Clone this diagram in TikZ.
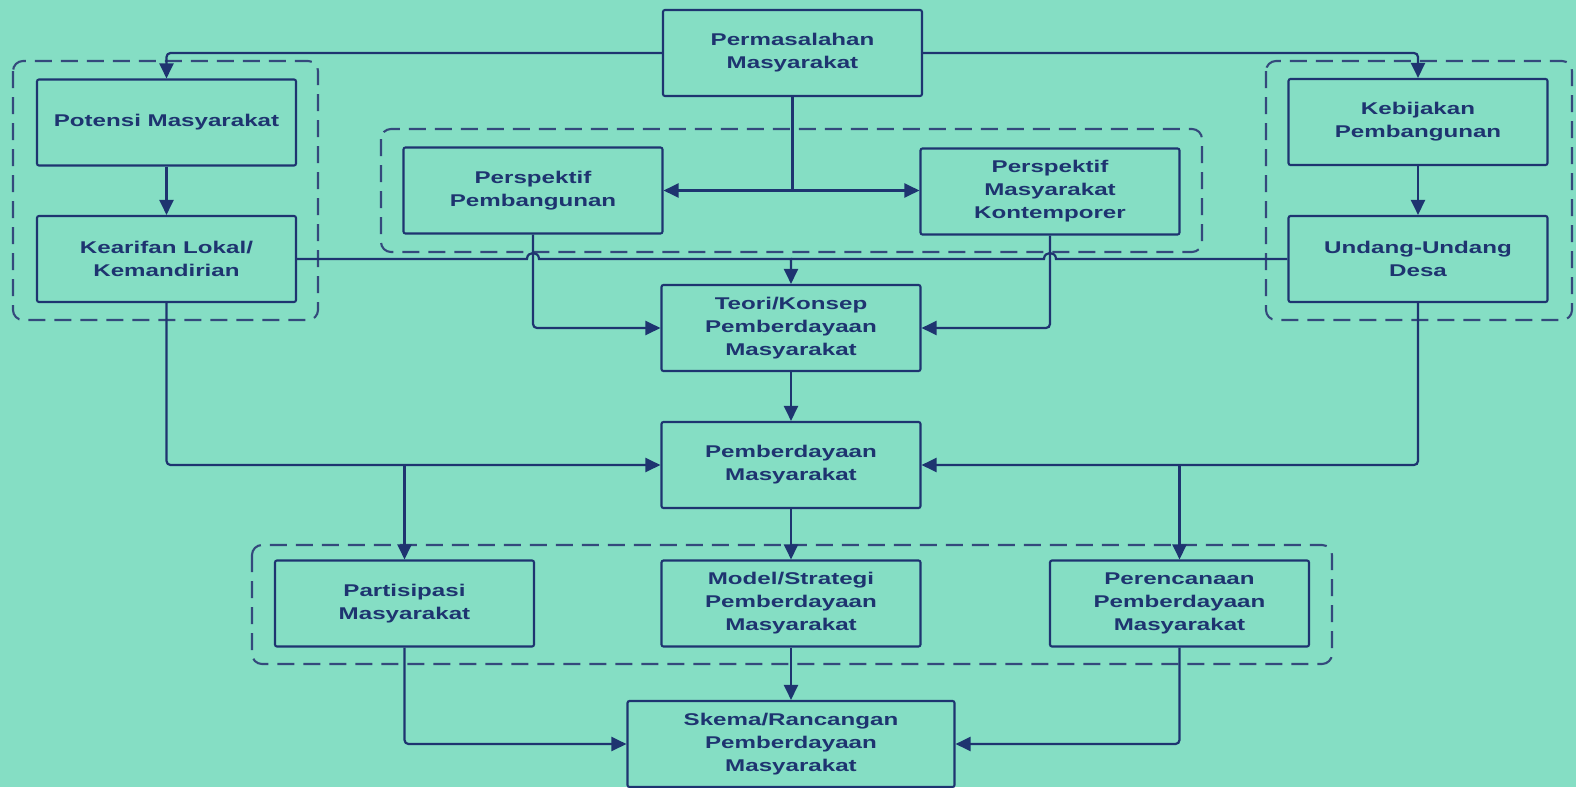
\documentclass[tikz,border=0pt]{standalone}
\usepackage{fontspec}
\setmainfont{Liberation Sans}[FakeStretch=1.42]
\usetikzlibrary{arrows.meta,calc}
\definecolor{bgmint}{HTML}{85DEC4}
\definecolor{navy}{HTML}{1E3470}
\definecolor{dashnavy}{HTML}{34497C}
\tikzset{
  box/.style={draw=navy, line width=2.1pt, rounded corners=2pt, minimum width=259pt, minimum height=86pt,
    align=center, text=navy, font=\fontsize{17}{23}\selectfont\bfseries, inner sep=2pt},
  conn/.style={draw=navy, line width=2.2pt, rounded corners=4pt},
  arr/.style={conn, -{Triangle[length=15pt,width=14pt]}},
  grp/.style={draw=dashnavy, line width=2.1pt, dash pattern=on 17pt off 9pt, rounded corners=10pt}
}
\begin{document}
\begin{tikzpicture}[x=1pt,y=-1pt]
\fill[bgmint] (0,0) rectangle (1576,787);
\useasboundingbox (0,0) rectangle (1576,787);

% groups
\draw[grp] (13,61) rectangle (318,320);
\draw[grp] (381,129) rectangle (1202,252);
\draw[grp] (1266,61) rectangle (1572,320);
\draw[grp] (252,545) rectangle (1332,664);

% nodes
\node[box] (perm) at (792.5,53) {Permasalahan\\Masyarakat};
\node[box] (pot) at (166.5,122.5) {Potensi Masyarakat};
\node[box] (kear) at (166.5,259) {Kearifan Lokal/\\Kemandirian};
\node[box] (ppem) at (533,190.5) {Perspektif\\Pembangunan};
\node[box] (pkon) at (1050,191.5) {Perspektif\\Masyarakat\\Kontemporer};
\node[box] (keb) at (1418,122) {Kebijakan\\Pembangunan};
\node[box] (uu) at (1418,259) {Undang-Undang\\Desa};
\node[box] (teori) at (791,328) {Teori/Konsep\\Pemberdayaan\\Masyarakat};
\node[box] (pemb) at (791,465) {Pemberdayaan\\Masyarakat};
\node[box] (part) at (404.5,603.5) {Partisipasi\\Masyarakat};
\node[box] (model) at (791,603.5) {Model/Strategi\\Pemberdayaan\\Masyarakat};
\node[box] (peren) at (1179.5,603.5) {Perencanaan\\Pemberdayaan\\Masyarakat};
\node[box, minimum width=327pt] (skema) at (791,744) {Skema/Rancangan\\Pemberdayaan\\Masyarakat};

% top connectors
\draw[arr] (perm.west) -| (pot.north);
\draw[arr] (perm.east) -| (keb.north);
\coordinate (pj) at (perm.south |- ppem.east);
\draw[conn] (perm.south) -- (pj);
\draw[arr] (pj) -- (ppem.east);
\draw[arr] (pj) -- (pj -| pkon.west);

\draw[arr] (pot) -- (kear);
\draw[arr] (keb) -- (uu);

% horizontal lines with hops into Teori
\coordinate (h1) at (ppem.south |- kear.east);
\coordinate (h2) at (pkon.south |- uu.west);
\draw[arr, rounded corners=0pt] (kear.east) -- ([xshift=-6pt]h1) .. controls ([xshift=-6pt,yshift=8pt]h1) and ([xshift=6pt,yshift=8pt]h1) .. ([xshift=6pt]h1) -- (teori.north |- kear.east) -- (teori.north);
\draw[conn, rounded corners=0pt] (uu.west) -- ([xshift=6pt]h2) .. controls ([xshift=6pt,yshift=8pt]h2) and ([xshift=-6pt,yshift=8pt]h2) .. ([xshift=-6pt]h2) -- (teori.north |- uu.west);

\draw[arr] (ppem.south) |- (teori.west);
\draw[arr] (pkon.south) |- (teori.east);
\draw[arr] (teori) -- (pemb);

% into Pemberdayaan
\draw[arr] (kear.south) |- (pemb.west);
\draw[arr] (uu.south) |- (pemb.east);
\draw[arr] (part.north |- pemb.west) -- (part.north);
\draw[arr] (peren.north |- pemb.east) -- (peren.north);
\draw[arr] (pemb) -- (model);

% into Skema
\draw[arr] (part.south) |- (skema.west);
\draw[arr] (model) -- (skema);
\draw[arr] (peren.south) |- (skema.east);
\end{tikzpicture}
\end{document}
